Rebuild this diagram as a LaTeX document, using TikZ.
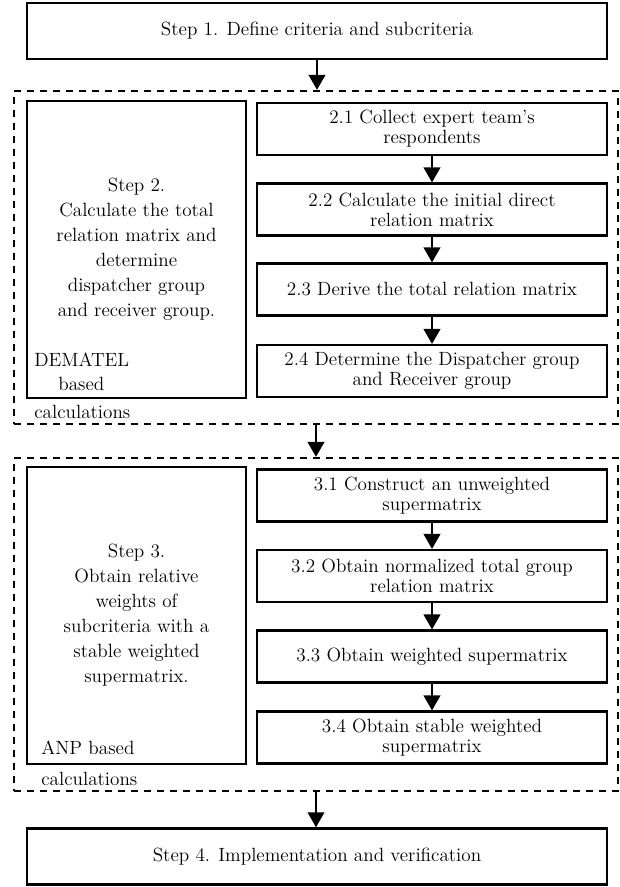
\documentclass[tikz,border=0pt]{standalone}
\usepackage{tikz}
\usetikzlibrary{arrows.meta}
\begin{document}
\begin{tikzpicture}[x=0.6pt,y=-0.6pt,
    stepbox/.style={draw,line width=1.5pt,minimum width=348pt,minimum height=33.6pt,inner sep=0pt,font=\fontsize{11.5}{12}\selectfont},
    groupbox/.style={draw,dash pattern=on 4.2pt off 3.6pt,line width=1.2pt,minimum width=362.4pt,minimum height=200pt,inner sep=0pt},
    sidebox/.style={draw,line width=1.3pt,minimum width=131.4pt,minimum height=178.2pt,align=center,inner sep=0pt,font=\fontsize{11.5}{15}\selectfont},
    subbox/.style={draw,line width=1.5pt,minimum width=210pt,minimum height=31pt,align=center,inner sep=0pt,font=\fontsize{11.5}{12}\selectfont},
    notetext/.style={anchor=west,align=left,inner sep=0pt,font=\fontsize{11.5}{14.5}\selectfont},
    flow/.style={-{Triangle[length=9pt,width=10pt]},line width=1.2pt}]

    \useasboundingbox (0,0) rectangle (620,887);

    % Steps 1 and 4
    \node[stepbox] (s1) at (317,31) {Step 1. Define criteria and subcriteria};
    \node[stepbox] (s4) at (317,856.5) {Step 4. Implementation and verification};

    % Dashed groups
    \node[groupbox] (g2) at (316,257.5) {};
    \node[groupbox] (g3) at (316,624.5) {};

    % Left boxes
    \node[sidebox] (l2) at (136.5,249.5) {Step 2.\\Calculate the total\\relation matrix and\\determine\\dispatcher group\\and receiver group.};
    \node[sidebox] (l3) at (136.5,615.5) {Step 3.\\Obtain relative\\weights of\\subcriteria with a\\stable weighted\\supermatrix.};

    \node[notetext] (dm) at (34,385.5) {DEMATEL\\\hspace*{14.4pt}based\\[2.5pt]calculations};
    \node[notetext] (anp) at (41,763.5) {ANP based\\[4pt]calculations};

    % Sub-steps of step 2
    \node[subbox] (r21) at (432,129) {2.1 Collect expert team's\\respondents};
    \node[subbox] (r22) at (432,209.5) {2.2 Calculate the initial direct\\relation matrix};
    \node[subbox] (r23) at (432,289.5) {2.3 Derive the total relation matrix};
    \node[subbox] (r24) at (432,371) {2.4 Determine the Dispatcher group\\and Receiver group};

    % Sub-steps of step 3
    \node[subbox] (r31) at (432,495.5) {3.1 Construct an unweighted\\supermatrix};
    \node[subbox] (r32) at (432,576) {3.2 Obtain normalized total group\\relation matrix};
    \node[subbox] (r33) at (432,656.5) {3.3 Obtain weighted supermatrix};
    \node[subbox] (r34) at (432,737.5) {3.4 Obtain stable weighted\\supermatrix};

    % Arrows
    \draw[flow] (s1.south) -- (s1.south |- g2.north);
    \draw[flow] (g2.south) -- (g2.south |- g3.north);
    \draw[flow] (g3.south) -- (g3.south |- s4.north);
    \foreach \a/\b in {r21/r22,r22/r23,r23/r24,r31/r32,r32/r33,r33/r34} {%
      \draw[flow] (\a.south) -- (\b.north);
    }

\end{tikzpicture}
\end{document}
